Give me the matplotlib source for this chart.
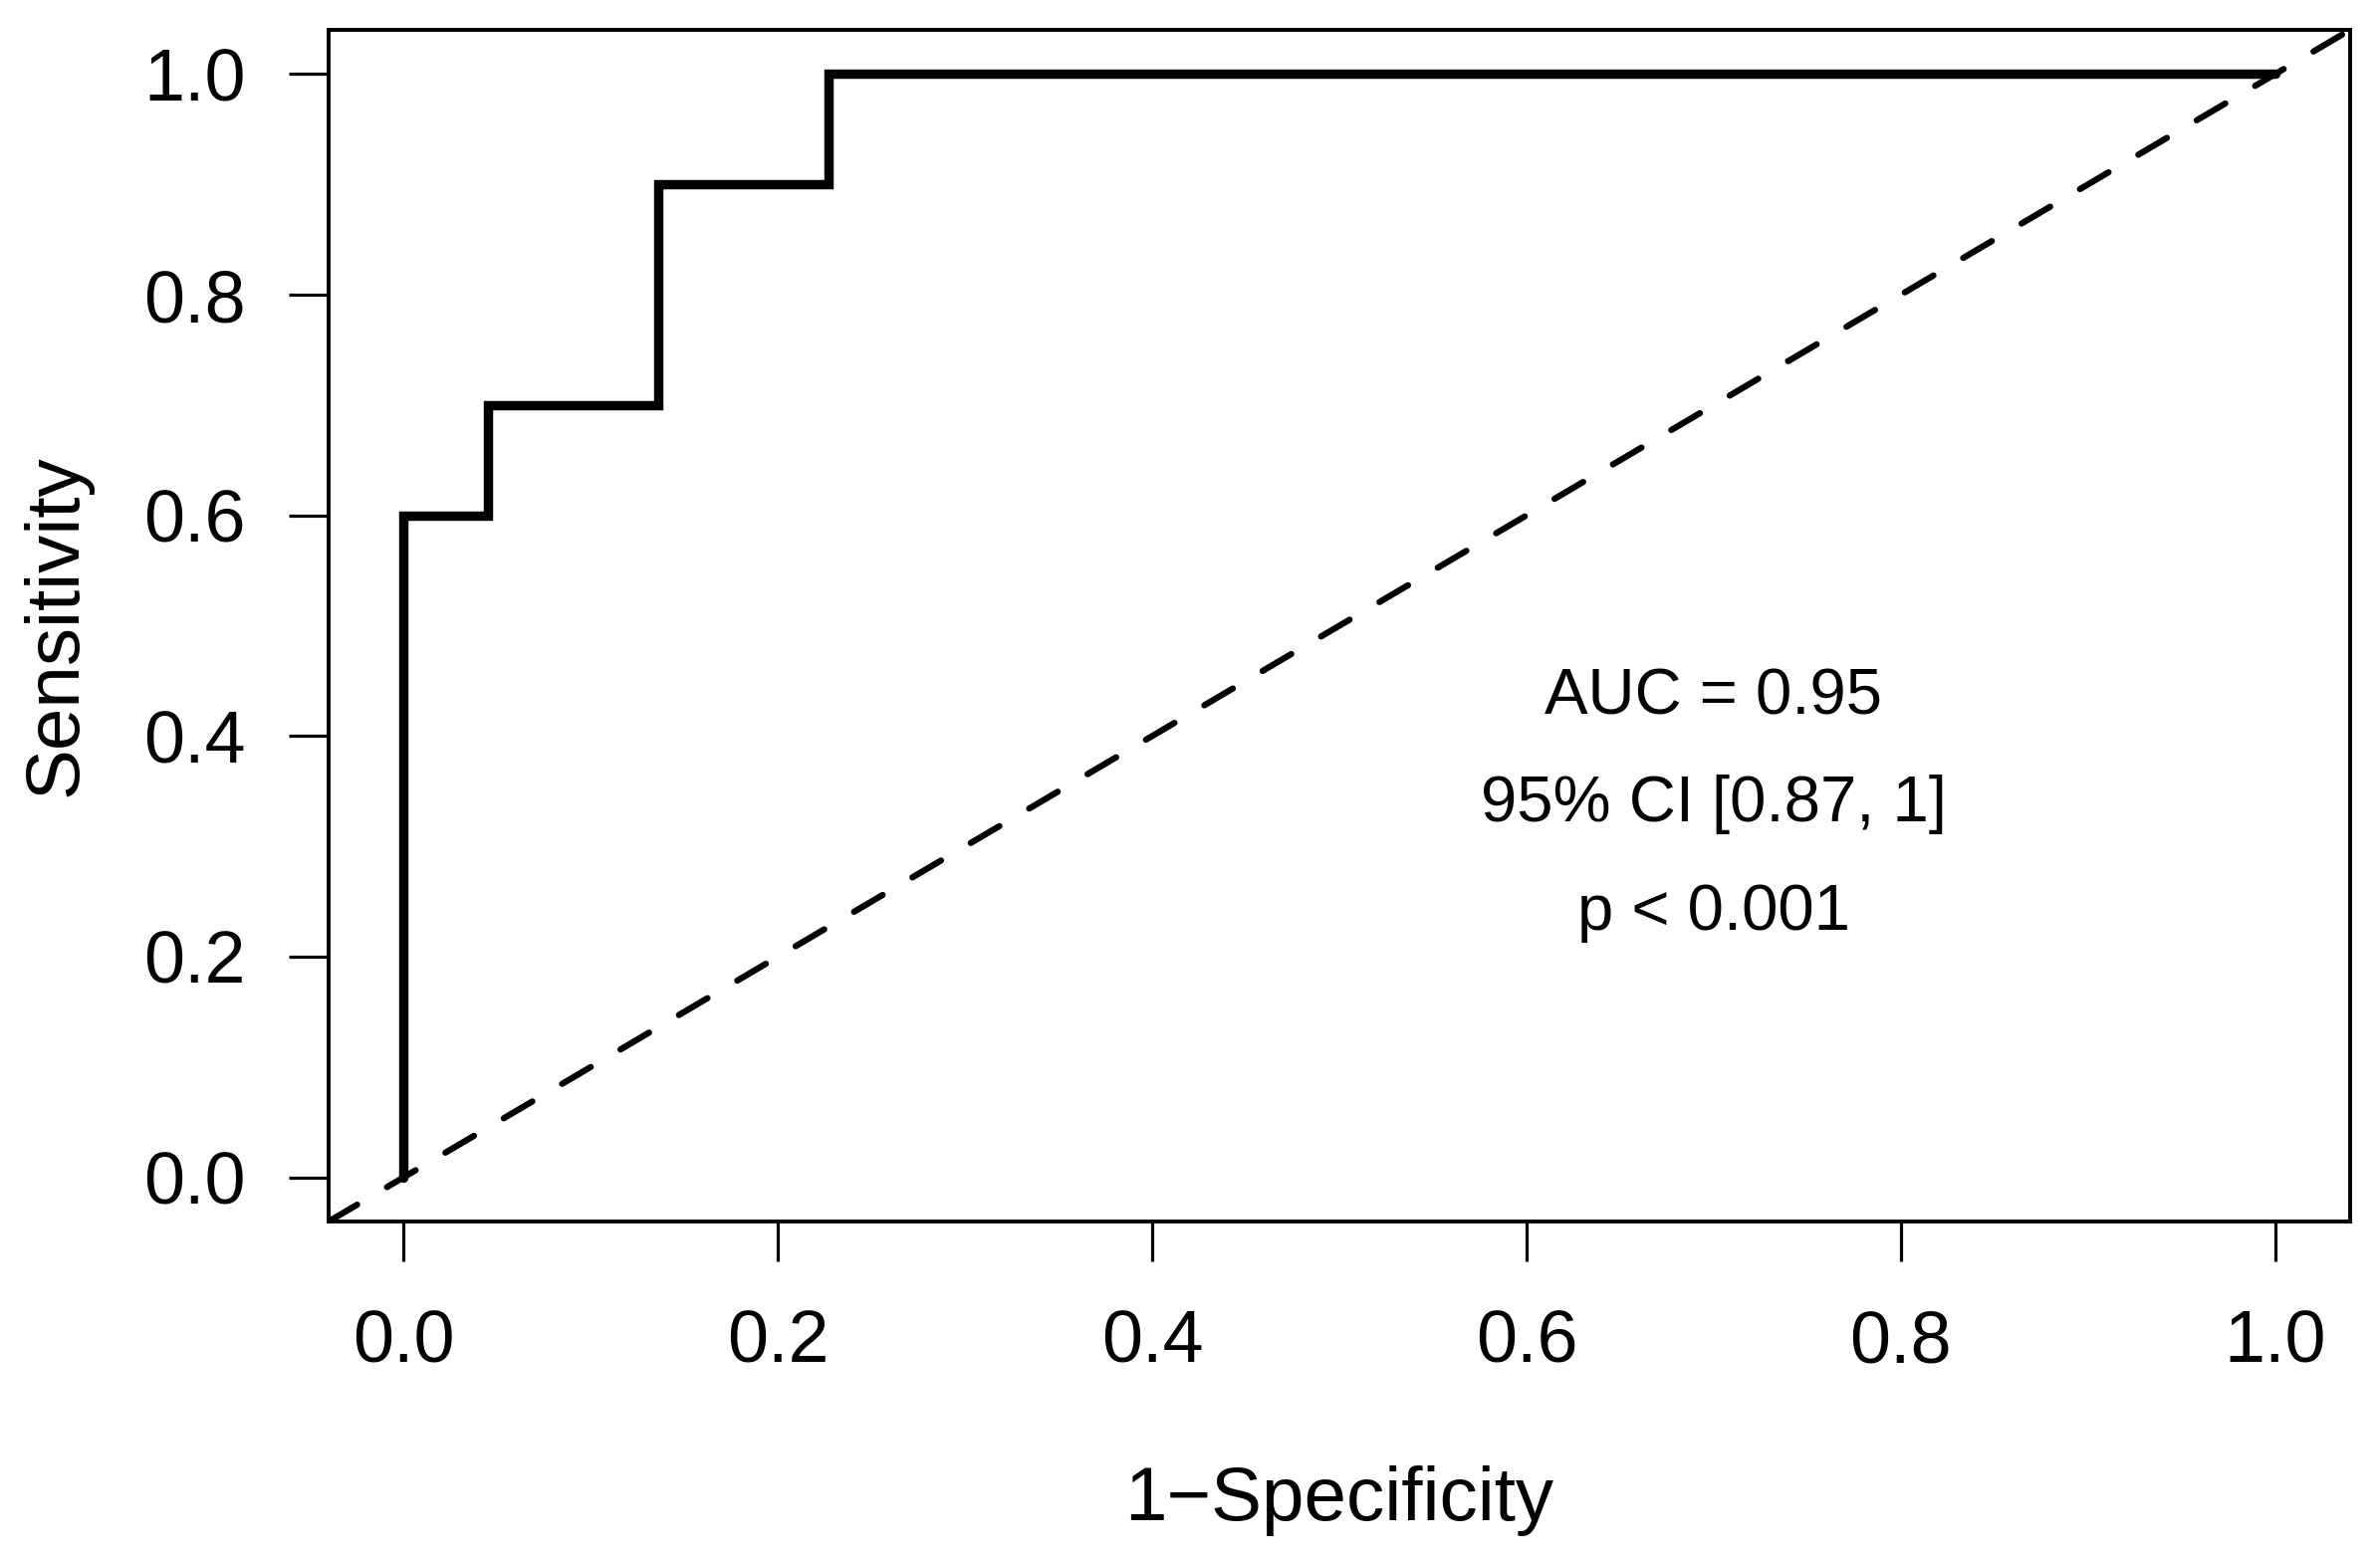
import matplotlib
matplotlib.use("Agg")
import matplotlib.pyplot as plt

# ---- data ----
fpr = [0.0, 0.0, 0.045, 0.045, 0.136, 0.136, 0.227, 0.227, 1.0]
tpr = [0.0, 0.6, 0.6, 0.7, 0.7, 0.9, 0.9, 1.0, 1.0]
ref_point_a = (0.0, 0.0)
ref_point_b = (1.0, 1.0)
tick_values = [0.0, 0.2, 0.4, 0.6, 0.8, 1.0]
tick_labels = ["0.0", "0.2", "0.4", "0.6", "0.8", "1.0"]
annot_lines = ["AUC = 0.95", "95% CI [0.87, 1]", "p < 0.001"]
x_label = "1\u2212Specificity"
y_label = "Sensitivity"

plt.rcParams['font.family'] = ['Liberation Sans', 'DejaVu Sans']
plt.rcParams['lines.scale_dashes'] = False

W, H = 2390, 1564
fig = plt.figure(figsize=(W / 100, H / 100), dpi=100)
left, right, top, bottom = 330, 2360, 30, 1227
ax = fig.add_axes([left / W, 1 - bottom / H, (right - left) / W, (bottom - top) / H])

ax.set_xlim(-0.04, 1.04)
ax.set_ylim(-0.04, 1.04)

ax.axline(ref_point_a, ref_point_b, color='black', lw=4.5,
          dashes=(24, 25), dash_capstyle='round', zorder=2)
ax.plot(fpr, tpr, color='black', lw=6.8, solid_capstyle='round',
        solid_joinstyle='miter', zorder=3)

ax.set_xticks(tick_values)
ax.set_xticklabels(tick_labels)
ax.set_yticks(tick_values)
ax.set_yticklabels(tick_labels)
ax.tick_params(axis='both', direction='out', length=29, width=2.3,
               labelsize=53, color='black')
ax.tick_params(axis='x', pad=34)
ax.tick_params(axis='y', pad=31)
for sp in ax.spines.values():
    sp.set_linewidth(2.8)
    sp.set_color('black')

ax.set_xlabel(x_label, fontsize=55)
ax.xaxis.set_label_coords(0.5, -0.205)
ax.set_ylabel(y_label, fontsize=55)
ax.yaxis.set_label_coords(-0.117, 0.5)

annot_y = [0.42, 0.323, 0.224]
for txt, yy in zip(annot_lines, annot_y):
    ax.text(0.7, yy, txt, ha='center', va='baseline', fontsize=47)

fig.savefig("out.png", dpi=100)
